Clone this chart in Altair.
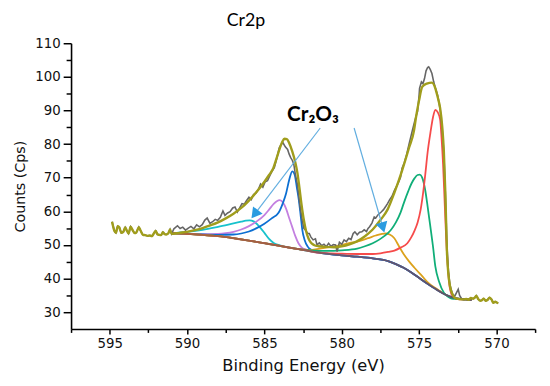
import altair as alt
import pandas as pd

# ---------------- data ----------------
# raw spectrum (grey)
raw_x = [594.85, 594.70, 594.60, 594.48, 594.38, 594.25, 594.12, 594.00, 593.90, 593.78,
         593.65, 593.52, 593.40, 593.28, 593.12, 593.00, 592.85, 592.70, 592.55, 592.40,
         592.28, 592.15, 592.03, 591.92, 591.80, 591.68, 591.56, 591.45, 591.35, 591.22,
         591.10, 591.00, 590.85, 590.62, 590.45, 590.28, 590.10, 589.92, 589.75, 589.56,
         589.38, 589.20, 589.02, 588.85, 588.70, 588.52, 588.35, 588.18, 588.02, 587.85,
         587.68, 587.55, 587.38, 587.22, 587.05, 586.90, 586.75, 586.60, 586.45, 586.30,
         586.15, 586.00, 585.85, 585.70, 585.55, 585.40, 585.25, 585.10, 584.95, 584.80,
         584.65, 584.50, 584.36, 584.20, 584.04, 583.90, 583.80, 583.65, 583.50, 583.40,
         583.30, 583.20, 583.10, 583.00, 582.87, 582.75, 582.66, 582.55, 582.45, 582.34,
         582.20, 582.10, 582.00, 581.85, 581.70, 581.60, 581.45, 581.30, 581.15, 581.00,
         580.85, 580.70, 580.55, 580.40, 580.30, 580.15, 580.00, 579.85, 579.70, 579.55,
         579.40, 579.26, 579.15, 579.00, 578.85, 578.70, 578.55, 578.40, 578.30, 578.20,
         578.05, 577.90, 577.80, 577.65, 577.45, 577.30, 577.15, 577.04, 576.90, 576.75,
         576.60, 576.45, 576.30, 576.20, 576.10, 575.95, 575.80, 575.65, 575.45, 575.30,
         575.15, 575.10, 575.00, 574.97, 574.85, 574.75, 574.65, 574.55, 574.45, 574.38,
         574.28, 574.17, 574.06, 573.95, 573.80, 573.64, 573.50, 573.40, 573.30, 573.20,
         573.10, 573.00, 572.85, 572.70, 572.58, 572.47, 572.38, 572.25, 572.10, 571.95,
         571.80, 571.65, 571.50, 571.40, 571.30, 571.18, 571.05, 570.95, 570.82, 570.70,
         570.58, 570.45, 570.32, 570.20, 570.08, 569.95, 569.88]
raw_y = [56.9, 54.2, 53.6, 55.6, 55.2, 53.6, 53.9, 55.2, 54.3, 53.4,
         55.4, 54.4, 53.5, 53.7, 55.3, 54.2, 53.0, 52.9, 52.7, 52.8,
         52.6, 53.4, 54.2, 53.2, 53.0, 52.9, 53.8, 53.2, 53.1, 53.4,
         54.6, 53.3, 54.8, 55.7, 54.9, 55.3, 54.4, 55.0, 55.5, 54.8,
         56.0, 55.4, 56.0, 57.4, 58.0, 56.4, 56.9, 57.6, 57.3, 58.2,
         60.1, 58.8, 59.5, 59.9, 61.0, 61.3, 59.8, 61.0, 62.3, 62.1,
         63.2, 64.2, 63.5, 65.0, 65.4, 66.4, 68.1, 67.2, 68.8, 69.1,
         70.6, 72.0, 73.0, 75.7, 78.9, 80.0, 80.4, 79.2, 78.4, 77.0,
         76.0, 75.2, 74.0, 71.0, 68.1, 63.5, 60.3, 57.2, 54.9, 54.4,
         53.4, 53.4, 52.4, 51.5, 51.8, 50.0, 50.6, 49.8, 50.2, 49.5,
         50.5, 49.6, 50.1, 50.0, 48.0, 50.8, 50.2, 51.5, 51.0, 52.0,
         51.6, 53.4, 53.9, 53.0, 53.8, 53.9, 54.5, 54.0, 54.9, 55.4,
         56.5, 58.3, 58.0, 59.0, 59.8, 60.5, 61.5, 62.3, 63.5, 64.5,
         66.2, 67.5, 69.0, 70.1, 72.8, 74.5, 77.0, 80.0, 83.8, 86.5,
         89.0, 89.7, 94.5, 96.6, 98.5, 98.0, 99.5, 101.8, 102.8, 103.0,
         102.2, 101.0, 98.6, 96.8, 94.5, 90.5, 84.0, 77.5, 65.0, 50.0,
         42.0, 38.0, 35.5, 34.7, 35.8, 36.8, 35.0, 34.0, 33.8, 33.9,
         33.7, 34.2, 34.0, 34.3, 34.9, 33.9, 33.4, 33.5, 34.0, 33.4,
         33.6, 34.3, 33.8, 32.8, 33.1, 32.8, 32.7]

# smooth envelope fit (olive) inside the fitted window
fit_x = [591.00, 590.50, 590.00, 589.50, 589.00, 588.50, 588.00, 587.50, 587.00, 586.50,
         586.00, 585.50, 585.00, 584.70, 584.46, 584.20, 584.00, 583.85, 583.70, 583.55,
         583.40, 583.20, 583.00, 582.87, 582.75, 582.60, 582.45, 582.30, 582.15, 582.00,
         581.80, 581.50, 581.00, 580.50, 580.00, 579.50, 579.05, 578.50, 578.00, 577.50,
         577.04, 576.60, 576.10, 575.65, 575.33, 575.20, 575.00, 574.80, 574.50, 574.17,
         573.95, 573.80, 573.64, 573.50, 573.40, 573.30, 573.20, 573.10, 573.00, 572.85,
         572.70, 572.40, 572.10]
fit_y = [53.3, 53.6, 53.9, 54.4, 55.0, 55.8, 56.7, 57.9, 59.3, 61.0,
         63.2, 65.8, 68.8, 70.8, 72.5, 76.0, 78.8, 80.6, 81.6, 81.5,
         80.3, 77.8, 74.5, 71.5, 67.5, 62.0, 57.4, 54.0, 51.9, 50.7,
         50.0, 49.6, 49.4, 49.3, 49.6, 50.2, 51.0, 52.6, 54.6, 57.4,
         60.5, 65.5, 72.1, 78.9, 84.0, 88.0, 93.0, 97.0, 98.0, 98.3,
         96.6, 94.0, 90.7, 85.0, 77.9, 65.0, 48.0, 41.0, 37.7, 35.4,
         34.3, 33.9, 33.8]

# Shirley-type background
bg_x = [591.0, 590.0, 589.0, 588.0, 587.0, 586.0, 585.0, 584.0, 583.0, 582.0,
        581.0, 580.0, 579.0, 578.0, 577.0, 576.5, 576.0, 575.5, 575.0, 574.5,
        574.0, 573.5, 573.0, 572.5, 572.0, 571.6]
bg_y = [53.5, 53.3, 53.0, 52.6, 52.0, 51.3, 50.5, 49.7, 48.9, 48.1,
        47.4, 46.9, 46.5, 46.0, 45.2, 44.3, 43.2, 41.8, 40.2, 38.6,
        37.1, 35.7, 34.6, 34.0, 33.8, 33.7]

# fitted components (peak part; outside it they sit on the background)
cyan_x = [591.0, 590.0, 589.0, 588.0, 587.0, 586.5, 586.2, 585.95, 585.7, 585.5,
          585.3, 585.0, 584.7, 584.4, 584.0, 583.5, 583.0]
cyan_y = [53.5, 53.9, 54.5, 55.4, 56.4, 56.9, 57.2, 57.3, 57.0, 56.3,
          55.3, 53.6, 51.8, 50.6, 49.9, 49.3, 48.9]

violet_x = [591.0, 590.0, 589.0, 588.0, 587.5, 587.0, 586.5, 586.0, 585.5, 585.0,
            584.7, 584.4, 584.2, 584.0, 583.8, 583.6, 583.4, 583.2, 583.0, 582.8,
            582.6, 582.3, 582.0]
violet_y = [53.5, 53.3, 53.2, 53.3, 53.5, 53.9, 54.6, 55.6, 57.0, 58.9,
            60.5, 62.2, 63.0, 63.3, 62.6, 60.8, 58.0, 55.3, 52.6, 50.5,
            49.3, 48.6, 48.1]

blue_x = [591.0, 590.0, 589.0, 588.0, 587.0, 586.5, 586.0, 585.5, 585.0, 584.5,
          584.1, 584.0, 583.8, 583.6, 583.4, 583.2, 583.05, 582.9, 582.77, 582.65,
          582.55, 582.4, 582.2, 582.0, 581.7, 581.4]
blue_y = [53.5, 53.3, 53.1, 53.0, 53.1, 53.4, 54.0, 55.0, 56.3, 58.0,
          59.5, 60.3, 62.5, 65.3, 69.3, 71.9, 71.0, 67.0, 63.2, 58.5,
          54.5, 51.5, 49.5, 48.6, 48.2, 47.8]

gold_x = [583.0, 582.5, 582.0, 581.7, 581.0, 580.5, 580.0, 579.6, 579.0, 578.3,
          577.8, 577.4, 577.15, 576.9, 576.6, 576.3, 576.0, 575.65, 575.3, 574.8,
          574.4, 573.95, 573.5, 573.1, 572.6]
gold_y = [48.9, 48.6, 48.5, 48.7, 49.2, 49.6, 50.0, 50.5, 51.0, 52.0,
          52.8, 53.3, 53.4, 53.1, 52.0, 49.6, 47.3, 45.1, 43.2, 40.7,
          38.7, 37.2, 35.8, 34.8, 34.1]

green_x = [583.0, 582.0, 581.0, 580.0, 579.0, 578.5, 578.0, 577.5, 577.0, 576.8,
           576.5, 576.2, 576.0, 575.7, 575.5, 575.3, 575.1, 574.95, 574.8, 574.6,
           574.45, 574.3, 574.1, 573.95, 573.7, 573.4, 573.1, 572.9, 572.5]
green_y = [48.9, 48.4, 48.2, 48.4, 48.9, 49.6, 50.5, 51.8, 53.6, 54.6,
           56.7, 59.6, 62.3, 66.0, 68.2, 69.8, 70.8, 70.9, 70.0, 66.2,
           61.5, 56.4, 49.5, 43.6, 39.0, 35.8, 34.5, 34.0, 33.9]

red_x = [583.0, 582.0, 581.7, 580.0, 579.0, 578.0, 577.5, 577.0, 576.6, 576.2,
         575.76, 575.5, 575.3, 575.1, 574.9, 574.74, 574.6, 574.45, 574.27, 574.1,
         573.95, 573.8, 573.64, 573.55, 573.45, 573.35, 573.25, 573.15, 573.05, 572.9,
         572.7, 572.4]
red_y = [48.9, 48.1, 47.8, 47.4, 47.3, 47.3, 47.5, 47.9, 48.3, 49.2,
         50.5, 52.3, 54.2, 56.6, 60.5, 65.5, 71.0, 77.5, 83.3, 88.0,
         90.2, 89.5, 87.3, 82.0, 74.0, 63.0, 52.0, 44.0, 38.5, 35.3,
         34.2, 33.8]

# axes ticks
x_ticks = [597.5, 595, 592.5, 590, 587.5, 585, 582.5, 580, 577.5, 575, 572.5, 570, 567.5]
y_ticks = [30, 35, 40, 45, 50, 55, 60, 65, 70, 75, 80, 85, 90, 95, 100, 105, 110]

# annotation
label_text = ["Cr₂O₃"]
label_x = [581.86]
label_y = [86.8]
arrow_x = [581.39, 579.20]
arrow_y = [84.79, 84.79]
arrow_x2 = [585.63, 577.34]
arrow_y2 = [59.14, 55.18]
arrow_angle = [217.4, 163.9]
title_text = ["Cr2p"]

# ---------------- tables ----------------
raw_df = pd.DataFrame({"x": raw_x, "y": raw_y})
fit_df = pd.DataFrame({"x": fit_x, "y": fit_y})
env_df = pd.concat([raw_df[raw_df.x > 591.0], fit_df, raw_df[raw_df.x < 572.0]], ignore_index=True)
bg_df = pd.DataFrame({"x": bg_x, "y": bg_y})


def component(px, py):
    lo, hi = min(px), max(px)
    tail = bg_df[(bg_df.x > hi) | (bg_df.x < lo)]
    return pd.concat([tail, pd.DataFrame({"x": px, "y": py})], ignore_index=True)


# ---------------- encodings ----------------
AX_FONT = "DejaVu Sans"
x_axis = alt.Axis(
    values=x_ticks,
    labelExpr="datum.value % 5 === 0 ? datum.label : ''",
    tickSize={"condition": {"test": "datum.value % 5 === 0", "value": 5}, "value": 3.5},
    grid=False, domainColor="black", domainWidth=1.6, tickColor="black", tickWidth=1.5,
    labelFont=AX_FONT, labelFontSize=13.5, labelColor="#111111", labelPadding=3,
    labelOverlap=False, labelFlush=False,
    titleFont=AX_FONT, titleFontSize=16.5, titleFontWeight="normal", titleColor="#111111",
    titleX=235.5, titleY=42.6, titleBaseline="alphabetic", titleAlign="center",
)
y_axis = alt.Axis(
    values=y_ticks,
    labelExpr="datum.value % 10 === 0 ? datum.label : ''",
    tickSize={"condition": {"test": "datum.value % 10 === 0", "value": 8}, "value": 5},
    grid=False, domainColor="black", domainWidth=1.6, tickColor="black", tickWidth=1.5,
    labelFont=AX_FONT, labelFontSize=13.5, labelColor="#111111", labelPadding=3,
    labelOverlap=False, labelFlush=False,
    titleFont=AX_FONT, titleFontSize=14.5, titleFontWeight="normal", titleColor="#111111",
    titleX=-47, titleY=145, titleAngle=270, titleBaseline="alphabetic", titleAlign="center",
)
X = alt.X("x:Q", scale=alt.Scale(domain=[567.5, 597.5], reverse=True, nice=False, zero=False),
          axis=x_axis, title="Binding Energy (eV)")
Y = alt.Y("y:Q", scale=alt.Scale(domain=[25, 110], nice=False, zero=False),
          axis=y_axis, title="Counts (Cps)")


def curve(df, color, width=1.8, interp="monotone"):
    return alt.Chart(df).mark_line(color=color, strokeWidth=width, interpolate=interp).encode(x=X, y=Y)


layers = [
    curve(component(cyan_x, cyan_y), "#17c2cc"),
    curve(component(violet_x, violet_y), "#c37fe0"),
    curve(component(blue_x, blue_y), "#0c6fd2"),
    curve(component(gold_x, gold_y), "#dca21c"),
    curve(component(green_x, green_y), "#10ae78"),
    curve(component(red_x, red_y), "#f64b4b"),
    alt.Chart(bg_df).mark_line(
        strokeWidth=1.9, interpolate="monotone",
        stroke=alt.LinearGradient(
            gradient="linear", x1=0, x2=1, y1=0, y2=0,
            stops=[alt.GradientStop(color="#a8643a", offset=0),
                   alt.GradientStop(color="#9c5f48", offset=0.42),
                   alt.GradientStop(color="#665670", offset=0.56),
                   alt.GradientStop(color="#5c5268", offset=1)]),
    ).encode(x=X, y=Y),
    curve(raw_df, "#666666", 1.6, "linear"),
    curve(env_df, "#a09d1c", 2.4, "monotone"),
]

arrows_df = pd.DataFrame({"x": arrow_x, "y": arrow_y, "x2": arrow_x2, "y2": arrow_y2})
heads_df = pd.DataFrame({"x": arrow_x2, "y": arrow_y2, "a": arrow_angle})
label_df = pd.DataFrame({"x": label_x, "y": label_y, "t": label_text})
title_df = pd.DataFrame({"t": title_text})

layers += [
    alt.Chart(arrows_df).mark_rule(color="#62aee0", strokeWidth=1.2).encode(
        x=X, y=Y, x2="x2:Q", y2="y2:Q"),
    alt.Chart(heads_df).mark_point(shape="triangle-up", filled=True, size=150,
                                   color="#2b9be0", opacity=1).encode(
        x=X, y=Y, angle=alt.Angle("a:Q", scale=None)),
    alt.Chart(label_df).mark_text(font="Lato", fontSize=21, fontWeight="bold",
                                  align="center", baseline="alphabetic", color="black").encode(
        x=X, y=Y, text="t:N"),
    alt.Chart(title_df).mark_text(font="Lato", fontSize=18, align="left",
                                  baseline="alphabetic", color="black").encode(
        x=alt.value(158), y=alt.value(-17.7), text="t:N"),
]

chart = alt.layer(*layers).properties(
    width=471, height=290,
    autosize=alt.AutoSizeParams(type="none"),
    padding={"left": 64, "top": 33, "right": 7, "bottom": 47},
    background="white",
).configure_view(stroke=None)

chart.save("out.html", embed_options={"renderer": "svg", "actions": False})
